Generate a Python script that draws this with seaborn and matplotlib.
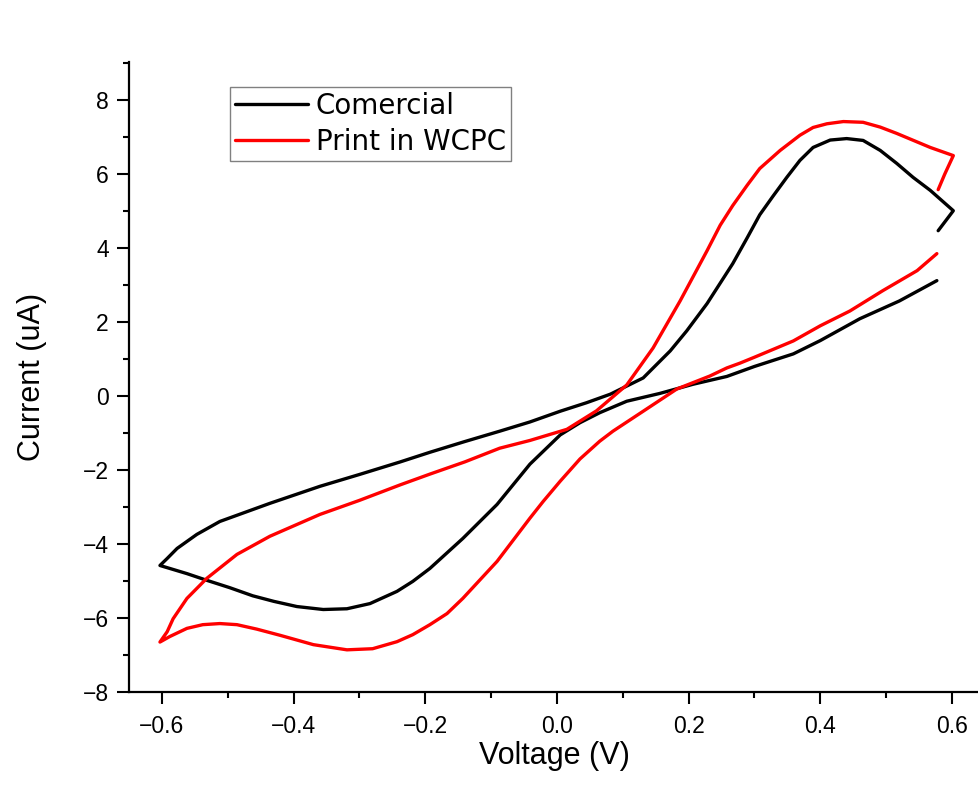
import numpy as np
import pandas as pd
import matplotlib
matplotlib.use("Agg")
import matplotlib.pyplot as plt
from matplotlib.lines import Line2D
from matplotlib.ticker import MultipleLocator
import seaborn as sns

# ---------------- data ----------------
series_names = ["Comercial", "Print in WCPC"]
series_colors = ["black", "red"]

comercial_v = [0.577, 0.52, 0.46, 0.40, 0.359, 0.30, 0.258, 0.207, 0.156, 0.106,
               0.065, 0.035, 0.005, -0.041, -0.091, -0.143, -0.193, -0.219, -0.243,
               -0.284, -0.319, -0.355, -0.395, -0.43, -0.462, -0.497, -0.532, -0.562,
               -0.603,
               -0.592, -0.577, -0.547, -0.512, -0.436, -0.36, -0.30, -0.238, -0.193,
               -0.14, -0.087, -0.041, 0.005, 0.045, 0.081, 0.131, 0.172, 0.197, 0.228,
               0.267, 0.289, 0.308, 0.328, 0.349, 0.369, 0.389, 0.415, 0.44, 0.465,
               0.491, 0.516, 0.541, 0.567, 0.602, 0.579]
comercial_i = [3.12, 2.57, 2.09, 1.50, 1.14, 0.80, 0.53, 0.32, 0.07, -0.14,
               -0.45, -0.72, -1.05, -1.84, -2.93, -3.85, -4.66, -5.01, -5.28,
               -5.61, -5.75, -5.77, -5.69, -5.55, -5.40, -5.18, -4.98, -4.80,
               -4.58,
               -4.39, -4.12, -3.74, -3.39, -2.90, -2.44, -2.12, -1.78, -1.52,
               -1.23, -0.95, -0.70, -0.41, -0.18, 0.05, 0.49, 1.22, 1.76, 2.50,
               3.58, 4.28, 4.90, 5.40, 5.91, 6.37, 6.72, 6.92, 6.96, 6.91,
               6.64, 6.29, 5.91, 5.56, 5.01, 4.47]

wcpc_v = [0.577, 0.547, 0.495, 0.445, 0.40, 0.359, 0.30, 0.278, 0.258, 0.232, 0.182,
          0.131, 0.085, 0.065, 0.035, 0.005, -0.021, -0.041, -0.091, -0.143, -0.167,
          -0.193, -0.219, -0.243, -0.28, -0.319, -0.37, -0.42, -0.456, -0.486, -0.512,
          -0.538, -0.562, -0.588, -0.603,
          -0.592, -0.583, -0.562, -0.532, -0.486, -0.436, -0.36, -0.30, -0.238, -0.193,
          -0.14, -0.087, -0.041, 0.015, 0.06, 0.106, 0.146, 0.187, 0.228, 0.248, 0.267,
          0.289, 0.308, 0.339, 0.369, 0.389, 0.41, 0.435, 0.465, 0.491, 0.516, 0.567,
          0.602, 0.589, 0.579]
wcpc_i = [3.85, 3.39, 2.85, 2.30, 1.90, 1.49, 1.05, 0.89, 0.76, 0.54, 0.19,
          -0.41, -0.95, -1.22, -1.70, -2.30, -2.85, -3.30, -4.47, -5.47, -5.88,
          -6.18, -6.45, -6.64, -6.83, -6.86, -6.72, -6.47, -6.30, -6.18, -6.15,
          -6.18, -6.28, -6.50, -6.65,
          -6.37, -6.02, -5.47, -4.93, -4.28, -3.79, -3.20, -2.82, -2.40, -2.11,
          -1.78, -1.41, -1.20, -0.90, -0.40, 0.30, 1.30, 2.57, 3.93, 4.62, 5.15,
          5.70, 6.15, 6.64, 7.05, 7.26, 7.36, 7.42, 7.40, 7.27, 7.10, 6.72,
          6.50, 6.00, 5.58]

x_ticks = [-0.6, -0.4, -0.2, 0.0, 0.2, 0.4, 0.6]
y_ticks = [-8, -6, -4, -2, 0, 2, 4, 6, 8]
x_label = "Voltage (V)"
y_label = "Current (uA)"

# ---------------- build table ----------------
frames = []
for name, v, i in [(series_names[0], comercial_v, comercial_i),
                   (series_names[1], wcpc_v, wcpc_i)]:
    frames.append(pd.DataFrame({"V": v, "I": i, "series": name,
                                "order": np.arange(len(v))}))
df = pd.concat(frames, ignore_index=True)

# ---------------- style ----------------
sns.set_theme(style="ticks")
plt.rcParams["font.family"] = ["Liberation Sans", "DejaVu Sans"]
plt.rcParams["axes.linewidth"] = 1.6
for key in ["text.color", "axes.labelcolor", "xtick.color", "ytick.color",
            "axes.edgecolor"]:
    plt.rcParams[key] = "black"

fig = plt.figure(figsize=(9.79, 7.96), dpi=100)
fig.patch.set_facecolor("white")
ax = fig.add_axes([129 / 979, 104 / 796, 850 / 979, 630 / 796])
ax.set_facecolor("white")

palette = dict(zip(series_names, series_colors))
sns.lineplot(data=df, x="V", y="I", hue="series", units="series", estimator=None,
             sort=False, palette=palette, linewidth=2.4, legend=False, ax=ax)

ax.set_xlim(-0.65, 0.641)
ax.set_ylim(-8, 9.03)
ax.set_xticks(x_ticks)
ax.set_xticklabels([f"{t:.1f}".replace("-", "\u2212") for t in x_ticks])
ax.set_yticks(y_ticks)
ax.set_yticklabels([str(t).replace("-", "\u2212") for t in y_ticks])
ax.xaxis.set_minor_locator(MultipleLocator(0.1))
ax.yaxis.set_minor_locator(MultipleLocator(1))

for s in ["top", "right"]:
    ax.spines[s].set_visible(False)
for s in ["left", "bottom"]:
    ax.spines[s].set_color("black")
    ax.spines[s].set_linewidth(1.6)

ax.tick_params(axis="both", which="major", direction="out", length=8.5, width=1.5,
               labelsize=16.5, colors="black")
ax.tick_params(axis="both", which="minor", direction="out", length=4.5, width=1.5,
               colors="black")
ax.tick_params(axis="y", which="major", pad=6)
ax.tick_params(axis="x", which="major", pad=8)

ax.set_xlabel(x_label, fontsize=22, labelpad=2, color="black")
ax.set_ylabel(y_label, fontsize=22, labelpad=26, color="black")

handles = [Line2D([], [], color=c, linewidth=2.4) for c in series_colors]
leg = ax.legend(handles, series_names, loc="upper left",
                bbox_to_anchor=(0.119, 0.960), borderaxespad=0,
                prop={"family": "DejaVu Sans", "size": 20},
                frameon=True, fancybox=False, shadow=False,
                handlelength=2.62, handletextpad=0.29, borderpad=0.18,
                labelspacing=0.28)
for t in leg.get_texts():
    t.set_color("black")
leg.get_frame().set_edgecolor("#808080")
leg.get_frame().set_linewidth(1.0)
leg.get_frame().set_facecolor("white")
leg.get_frame().set_alpha(1.0)

fig.savefig("out.png", dpi=100, facecolor="white")
